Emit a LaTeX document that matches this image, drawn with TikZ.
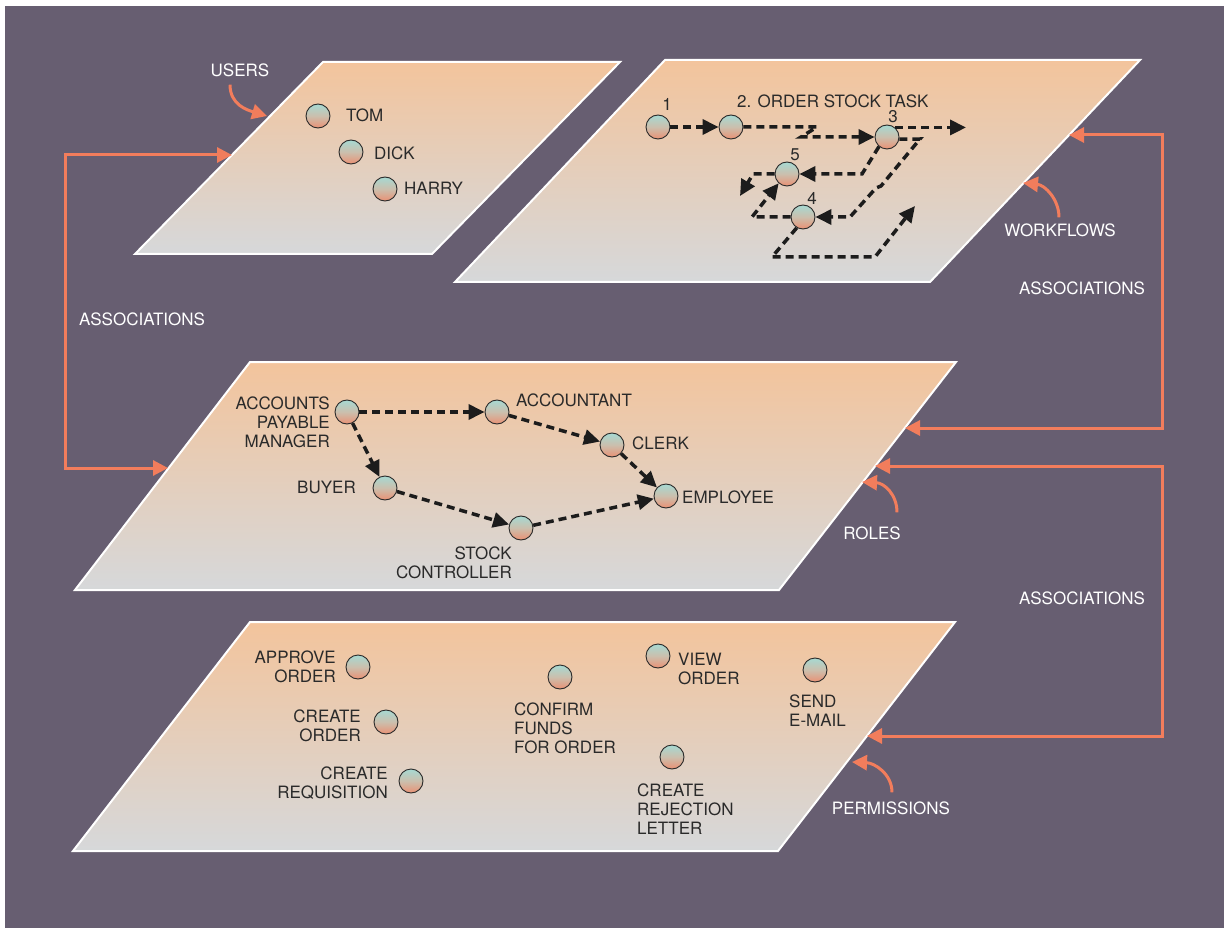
\documentclass[tikz,border=0pt]{standalone}
\usepackage{fontspec}
\setmainfont{TeX Gyre Heros}
\usetikzlibrary{arrows.meta}

\definecolor{bgpurple}{HTML}{675E71}
\definecolor{assoc}{HTML}{F27D5C}
\definecolor{planetop}{HTML}{F3C49C}
\definecolor{planebot}{HTML}{D6D8DA}
\definecolor{balltop}{HTML}{A6D9D2}
\definecolor{ballmid}{HTML}{CBBFAD}
\definecolor{ballbot}{HTML}{EA9174}
\definecolor{ink}{HTML}{2A2A2A}
\definecolor{flow}{HTML}{1C1C1C}

\tikzset{
  plane/.style={top color=planetop, bottom color=planebot, draw=white, line width=2pt, line join=miter},
  ball/.style={circle, minimum size=24pt, inner sep=0pt, draw=ink, line width=0.9pt,
               top color=balltop, bottom color=ballbot, middle color=ballmid},
  lbl/.style={inner sep=0pt, text=ink, font=\fontsize{17}{19}\selectfont},
  tag/.style={inner sep=0pt, text=white, font=\fontsize{17}{19}\selectfont},
  flowline/.style={draw=flow, line width=3.5pt, dash pattern=on 8pt off 5pt,
                   -{Triangle[length=16pt,width=15pt]}},
  assocline/.style={draw=assoc, line width=3pt, line join=miter},
  assoctip/.style={-{Triangle[length=15pt,width=15pt]}},
}

\begin{document}
\begin{tikzpicture}[x=1pt,y=-1pt]
\useasboundingbox (0,0) rectangle (1224,928);
\fill[white] (0,0) rectangle (1224,928);
\fill[bgpurple] (5,6) rectangle (1224,928);

% the four layers
\path[plane] (323,62) -- (620,62) -- (432,254) -- (135,254) -- cycle;
\path[plane] (665,60) -- (1140,60) -- (930,282) -- (455,282) -- cycle;
\path[plane] (250,362) -- (956,362) -- (779,590) -- (75,590) -- cycle;
\path[plane] (250,622) -- (955,622) -- (778,851) -- (73,851) -- cycle;

% ---------- users ----------
\node[ball] (tom)   at (318,116) {};
\node[ball] (dick)  at (351,152) {};
\node[ball] (harry) at (385,189) {};
\node[lbl, anchor=north west] (tomL)   at (346,109) {TOM};
\node[lbl, anchor=north west] (dickL)  at (374,147) {DICK};
\node[lbl, anchor=north west] (harryL) at (404,182) {HARRY};

% ---------- workflows ----------
\node[ball] (w1) at (658,127) {};
\node[ball] (w2) at (731,127) {};
\node[ball] (w3) at (887,137) {};
\node[ball] (w5) at (787,174) {};
\node[ball] (w4) at (803,217) {};
\node[lbl] (w1L) at (667,104) {1};
\node[lbl, anchor=north west] (taskL) at (737,95) {2. ORDER STOCK TASK};
\node[lbl] (w3L) at (893,117) {3};
\node[lbl] (w5L) at (795,155) {5};
\node[lbl] (w4L) at (812,198) {4};

\coordinate (w3exit) at (966,128);
\coordinate (w5exit) at (740,196);
\coordinate (w4loop) at (915,206);

\draw[flowline] (w1) -- (w2);
\draw[flowline] (w2.east) -- (817,127) -- (801,137) -- (w3.west);
\draw[flowline] (w3.50) -- (w3.50 -| w3exit);
\draw[flowline] (w3.-10) -- (920,139) -- (881,186) -- (876,188) -- (850,217) -- (w4.east);
\draw[flowline] (w3.230) -- (862,174) -- (w5.east);
\draw[flowline] (w5.west) -- (753,174) -- (w5exit);
\draw[flowline] (w4.west) -- (752,217) -- (w5.228);
\draw[flowline] (w4.240) -- (772,257) -- (875,257) -- (w4loop);

% ---------- roles ----------
\node[ball] (apm)   at (347,412) {};
\node[ball] (acct)  at (497,412) {};
\node[ball] (clerk) at (612,445) {};
\node[ball] (emp)   at (666,496) {};
\node[ball] (buyer) at (385,488) {};
\node[ball] (stock) at (521,528) {};
\node[lbl, anchor=north east, align=right] (apmL) at (330,397) {ACCOUNTS\\PAYABLE\\MANAGER};
\node[lbl, anchor=north west] (acctL)  at (516,394) {ACCOUNTANT};
\node[lbl, anchor=north west] (clerkL) at (632,437) {CLERK};
\node[lbl, anchor=north west] (empL)   at (682,491) {EMPLOYEE};
\node[lbl, anchor=north east] (buyerL) at (356,481) {BUYER};
\node[lbl, anchor=north east, align=right] (stockL) at (512,547) {STOCK\\CONTROLLER};

\draw[flowline] (apm) -- (acct);
\draw[flowline] (apm) -- (buyer);
\draw[flowline] (acct) -- (clerk);
\draw[flowline] (clerk) -- (emp);
\draw[flowline] (buyer) -- (stock);
\draw[flowline] (stock) -- (emp);

% ---------- permissions ----------
\node[ball] (approve) at (358,667) {};
\node[ball] (corder)  at (386,722) {};
\node[ball] (creq)    at (411,781) {};
\node[ball] (confirm) at (560,677) {};
\node[ball] (view)    at (658,656) {};
\node[ball] (send)    at (815,670) {};
\node[ball] (reject)  at (672,757) {};
\node[lbl, anchor=north east, align=right] (approveL) at (336,651) {APPROVE\\ORDER};
\node[lbl, anchor=north east, align=right] (corderL)  at (361,710) {CREATE\\ORDER};
\node[lbl, anchor=north east, align=right] (creqL)    at (388,767) {CREATE\\REQUISITION};
\node[lbl, anchor=north west, align=left]  (confirmL) at (514,703) {CONFIRM\\FUNDS\\FOR ORDER};
\node[lbl, anchor=north west, align=left]  (viewL)    at (678,653) {VIEW\\ORDER};
\node[lbl, anchor=north west, align=left]  (sendL)    at (789,695) {SEND\\E-MAIL};
\node[lbl, anchor=north west, align=left]  (rejectL)  at (637,784) {CREATE\\REJECTION\\LETTER};

% ---------- layer names and associations ----------
\node[tag] (usersT)  at (240,70)  {USERS};
\node[tag] (flowsT)  at (1060,230) {WORKFLOWS};
\node[tag] (rolesT)  at (872,533) {ROLES};
\node[tag] (permsT)  at (891,808) {PERMISSIONS};
\node[tag] (assocA)  at (142,319) {ASSOCIATIONS};
\node[tag] (assocB)  at (1082,288) {ASSOCIATIONS};
\node[tag] (assocC)  at (1082,598) {ASSOCIATIONS};

\coordinate (usersIn)  at (232,155);
\coordinate (rolesInL) at (168,468);
\coordinate (flowsIn)  at (1069,135);
\coordinate (rolesInA) at (905,428);
\coordinate (rolesInB) at (875,466);
\coordinate (permsIn)  at (867,736);

\draw[assocline, {Triangle[length=15pt,width=15pt]}-{Triangle[length=15pt,width=15pt]}]
  (usersIn) -- (65,155) -- (65,468) -- (rolesInL);
\draw[assocline, {Triangle[length=15pt,width=15pt]}-{Triangle[length=15pt,width=15pt]}]
  (flowsIn) -- (1162,135) -- (1162,428) -- (rolesInA);
\draw[assocline, {Triangle[length=15pt,width=15pt]}-{Triangle[length=15pt,width=15pt]}]
  (rolesInB) -- (1162,466) -- (1162,736) -- (permsIn);

% curved pointers from the layer names
\coordinate (usersTip) at (267,116);
\coordinate (flowsTip) at (1023,183);
\coordinate (rolesTip) at (862,482);
\coordinate (permsTip) at (852,762);
\draw[assocline, assoctip] (usersT.south) ++(-10,8) .. controls +(0,20) and (247,110) .. (usersTip);
\draw[assocline, assoctip] (flowsT.north) ++(-1,-6) .. controls +(0,-18) and (1045,185) .. (flowsTip);
\draw[assocline, assoctip] (rolesT.north) ++(25,-14) .. controls +(0,-18) and (884,483) .. (rolesTip);
\draw[assocline, assoctip] (permsT.north) ++(1,-9) .. controls +(0,-18) and (875,763) .. (permsTip);
\end{tikzpicture}
\end{document}
